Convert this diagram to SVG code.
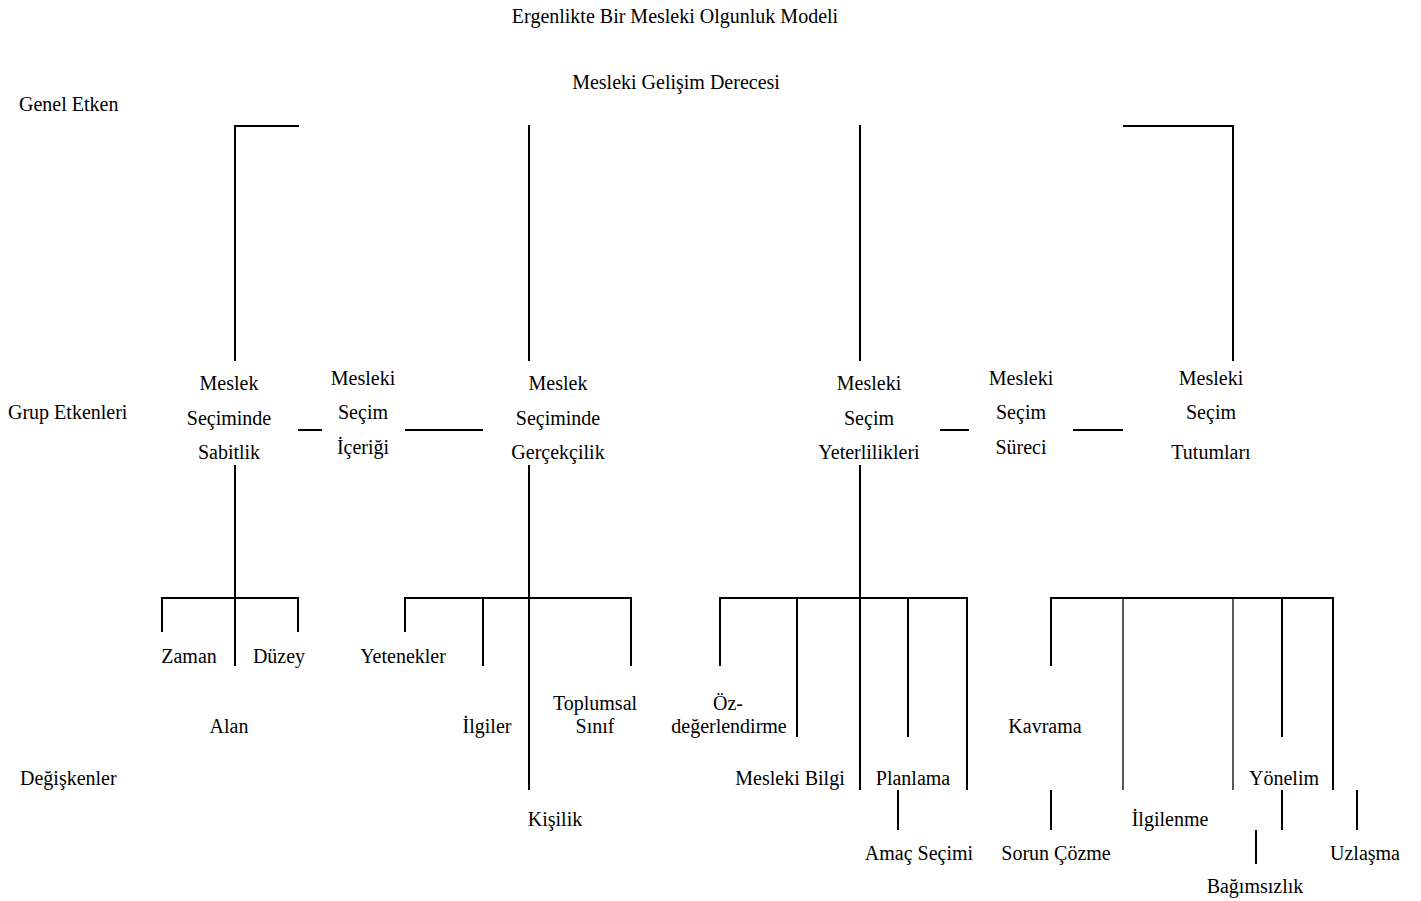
<svg xmlns="http://www.w3.org/2000/svg" width="1421" height="901" viewBox="0 0 1421 901">
<style>
text{font-family:"Liberation Serif","Times New Roman",serif;font-size:20px;fill:#000}
.c{text-anchor:middle}
.l{stroke:#000;stroke-width:2;fill:none}
.t{stroke:#000;stroke-width:1.3;fill:none}
</style>
<rect width="1421" height="901" fill="#fff"/>
<g id="titles">
<text class="c" x="675" y="23">Ergenlikte Bir Mesleki Olgunluk Modeli</text>
<text class="c" x="676" y="89">Mesleki Gelişim Derecesi</text>
<text x="19" y="111">Genel Etken</text>
<text x="8" y="419">Grup Etkenleri</text>
<text x="20" y="785">Değişkenler</text>
</g>
<g id="connectors">
<path class="l" d="M299 126H235V361M529 125V361M860 125V361M1123 126H1233V361"/>
<path class="l" d="M298 430H322M405 430H483M940 430H969M1073 430H1123"/>
<path class="l" d="M235 465V666M162 632V598H298V632"/>
<path class="l" d="M529 465V790M405 632V598H631V666M483 598V666"/>
<path class="l" d="M860 465V790M720 666V598H967V790M797 598V737M908 598V737M898 790V830"/>
<path class="l" d="M1051 666V598H1333V790M1282 598V737M1051 790V830M1282 790V830M1256 830V864M1357 790V830"/>
<path class="t" d="M1123 598V790M1233 598V790"/>
</g>
<g id="n-sabitlik"><text class="c" x="229" y="390">Meslek</text><text class="c" x="229" y="425">Seçiminde</text><text class="c" x="229" y="459">Sabitlik</text></g>
<g id="n-icerigi"><text class="c" x="363" y="385">Mesleki</text><text class="c" x="363" y="419">Seçim</text><text class="c" x="363" y="454">İçeriği</text></g>
<g id="n-gercekcilik"><text class="c" x="558" y="390">Meslek</text><text class="c" x="558" y="425">Seçiminde</text><text class="c" x="558" y="459">Gerçekçilik</text></g>
<g id="n-yeterlilikleri"><text class="c" x="869" y="390">Mesleki</text><text class="c" x="869" y="425">Seçim</text><text class="c" x="869" y="459">Yeterlilikleri</text></g>
<g id="n-sureci"><text class="c" x="1021" y="385">Mesleki</text><text class="c" x="1021" y="419">Seçim</text><text class="c" x="1021" y="454">Süreci</text></g>
<g id="n-tutumlari"><text class="c" x="1211" y="385">Mesleki</text><text class="c" x="1211" y="419">Seçim</text><text class="c" x="1211" y="459">Tutumları</text></g>
<g id="n-zaman"><text class="c" x="189" y="663">Zaman</text></g>
<g id="n-duzey"><text class="c" x="279" y="663">Düzey</text></g>
<g id="n-alan"><text class="c" x="229" y="733">Alan</text></g>
<g id="n-yetenekler"><text class="c" x="403" y="663">Yetenekler</text></g>
<g id="n-ilgiler"><text class="c" x="487" y="733">İlgiler</text></g>
<g id="n-toplumsal"><text class="c" x="595" y="710">Toplumsal</text><text class="c" x="595" y="733">Sınıf</text></g>
<g id="n-kisilik"><text class="c" x="555" y="826">Kişilik</text></g>
<g id="n-ozdeger"><text class="c" x="728" y="710">Öz-</text><text class="c" x="729" y="733">değerlendirme</text></g>
<g id="n-bilgi"><text class="c" x="790" y="785">Mesleki Bilgi</text></g>
<g id="n-planlama"><text class="c" x="913" y="785">Planlama</text></g>
<g id="n-amac"><text class="c" x="919" y="860">Amaç Seçimi</text></g>
<g id="n-kavrama"><text class="c" x="1045" y="733">Kavrama</text></g>
<g id="n-sorun"><text class="c" x="1056" y="860">Sorun Çözme</text></g>
<g id="n-ilgilenme"><text class="c" x="1170" y="826">İlgilenme</text></g>
<g id="n-yonelim"><text class="c" x="1284" y="785">Yönelim</text></g>
<g id="n-bagimsizlik"><text class="c" x="1255" y="893">Bağımsızlık</text></g>
<g id="n-uzlasma"><text class="c" x="1365" y="860">Uzlaşma</text></g>
</svg>
